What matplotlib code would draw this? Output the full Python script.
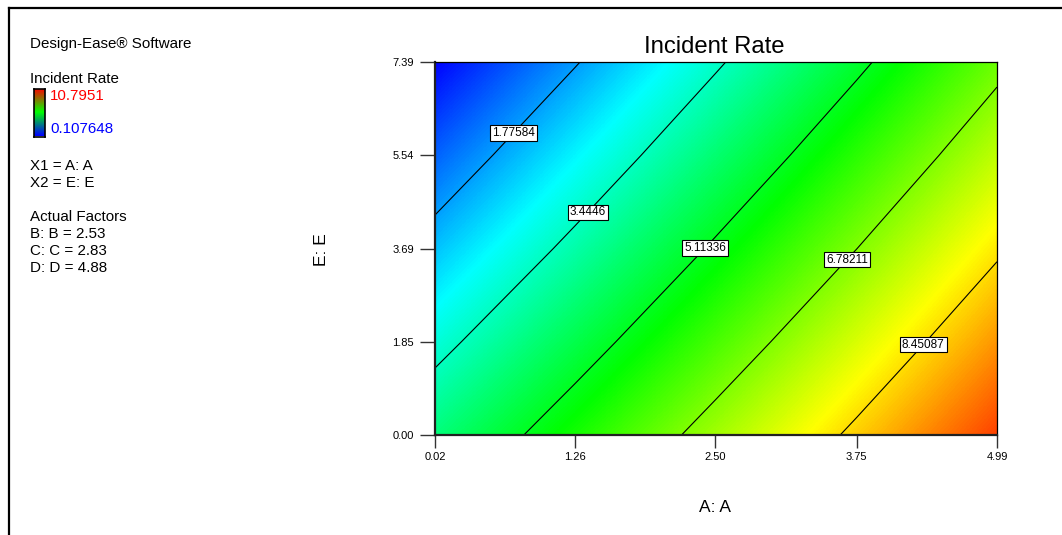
import numpy as np
import matplotlib
matplotlib.use('Agg')
import matplotlib.pyplot as plt
from matplotlib.colors import LinearSegmentedColormap
from matplotlib.lines import Line2D

plt.rcParams['font.family'] = ['Liberation Sans', 'DejaVu Sans']

# factor A (x) and factor E (y) at the tick positions
a_ticks = [0.02, 1.26, 2.50, 3.75, 4.99]
e_ticks = [0.00, 1.85, 3.69, 5.54, 7.39]

# Incident Rate read at the tick grid, rows = E, cols = A
rate_e000 = [4.173, 5.657, 7.141, 8.625, 10.110]
rate_e185 = [3.157, 4.672, 6.187, 7.702, 9.217]
rate_e369 = [2.141, 3.687, 5.233, 6.779, 8.325]
rate_e554 = [1.125, 2.702, 4.279, 5.856, 7.432]
rate_e739 = [0.109, 1.717, 3.324, 4.932, 6.540]

contour_levels = [1.77584, 3.4446, 5.11336, 6.78211, 8.45087]
level_labels = ['1.77584', '3.4446', '5.11336', '6.78211', '8.45087']

rate_min = 0.107648
rate_max = 10.7951

factor_lines = ['X1 = A: A', 'X2 = E: E']
actual_factors = ['B: B = 2.53', 'C: C = 2.83', 'D: D = 4.88']

z = np.array([rate_e000, rate_e185, rate_e369, rate_e554, rate_e739])
xs = np.array(a_ticks)
ys = np.array(e_ticks)

cmap = LinearSegmentedColormap.from_list(
    'de', ['#0000ff', '#00ffff', '#00ff00', '#ffff00', '#ff0000'])

W, H = 1062, 535
fig = plt.figure(figsize=(W / 100, H / 100), dpi=100)

ax = fig.add_axes([435 / W, 1 - 435 / H, 562 / W, 373.3 / H])
dx = (xs[-1] - xs[0]) / (len(xs) - 1)
dy = (ys[-1] - ys[0]) / (len(ys) - 1)
ax.imshow(z, origin='lower', cmap=cmap, vmin=rate_min, vmax=rate_max,
          interpolation='bilinear', aspect='auto',
          extent=[xs[0] - dx / 2, xs[-1] + dx / 2, ys[0] - dy / 2, ys[-1] + dy / 2])
cs = ax.contour(xs, ys, z, levels=contour_levels, colors='black', linewidths=0.8)

label_pos = [(0.68, 6.05), (1.34, 4.47), (2.38, 3.76), (3.62, 3.56), (4.31, 1.85)]
fmt = dict(zip(cs.levels, level_labels))
texts = ax.clabel(cs, fmt=fmt, inline=False, fontsize=8.5, manual=label_pos, colors='black')
for t in texts:
    t.set_rotation(0)
    t.set_bbox(dict(facecolor='white', edgecolor='black', linewidth=0.8, pad=1.3))

ax.set_xlim(xs[0], xs[-1])
ax.set_ylim(ys[0], ys[-1])
ax.set_xticks(a_ticks)
ax.set_xticklabels(['%.2f' % v for v in a_ticks])
ax.set_yticks(e_ticks)
ax.set_yticklabels(['%.2f' % v for v in e_ticks])
ax.tick_params(axis='x', length=9, width=1, color='#333333', labelsize=8, pad=3)
ax.tick_params(axis='y', length=11, width=1, color='#333333', labelsize=8, pad=4)
for s in ['left', 'bottom']:
    ax.spines[s].set_linewidth(1.6)
    ax.spines[s].set_color('#222222')
for s in ['top', 'right']:
    ax.spines[s].set_linewidth(0.9)

fig.text(714 / W, 1 - 47 / H, 'Incident Rate', fontsize=17.2, ha='center', va='center')
fig.text(715 / W, 1 - 507 / H, 'A: A', fontsize=12.5, ha='center', va='center')
fig.text(322 / W, 1 - 250 / H, 'E: E', fontsize=12.5, ha='center', va='center', rotation=90)

# left info panel
fs = 10.9
fig.text(30 / W, 1 - 44 / H, 'Design-Ease® Software', fontsize=fs, va='center')
fig.text(30 / W, 1 - 79 / H, 'Incident Rate', fontsize=fs, va='center')
fig.text(50 / W, 1 - 96 / H, '%g' % rate_max, fontsize=fs, va='center', color='red')
fig.text(50 / W, 1 - 129 / H, '%g' % rate_min, fontsize=fs, va='center', color='blue')
for i, s in enumerate(factor_lines):
    fig.text(30 / W, 1 - (166 + 16.6 * i) / H, s, fontsize=fs, va='center')
fig.text(30 / W, 1 - 217 / H, 'Actual Factors', fontsize=fs, va='center')
for i, s in enumerate(actual_factors):
    fig.text(30 / W, 1 - (234 + 17 * i) / H, s, fontsize=fs, va='center')

bar = fig.add_axes([34 / W, 1 - 136.5 / H, 11 / W, 48 / H])
bar_cmap = LinearSegmentedColormap.from_list('bar', ['#0000ff', '#00ff00', '#ff0000'])
bar.imshow(np.linspace(0, 1, 100).reshape(-1, 1), origin='lower', cmap=bar_cmap, aspect='auto')
bar.set_xticks([])
bar.set_yticks([])
for s in bar.spines.values():
    s.set_linewidth(1.2)

# outer frame
fx = 8.5 / W
fy = 1 - 8 / H
fig.add_artist(Line2D([fx, fx], [0, fy], color='black', linewidth=1.6, transform=fig.transFigure))
fig.add_artist(Line2D([fx, 1], [fy, fy], color='black', linewidth=1.6, transform=fig.transFigure))

fig.savefig('out.png', dpi=100)
